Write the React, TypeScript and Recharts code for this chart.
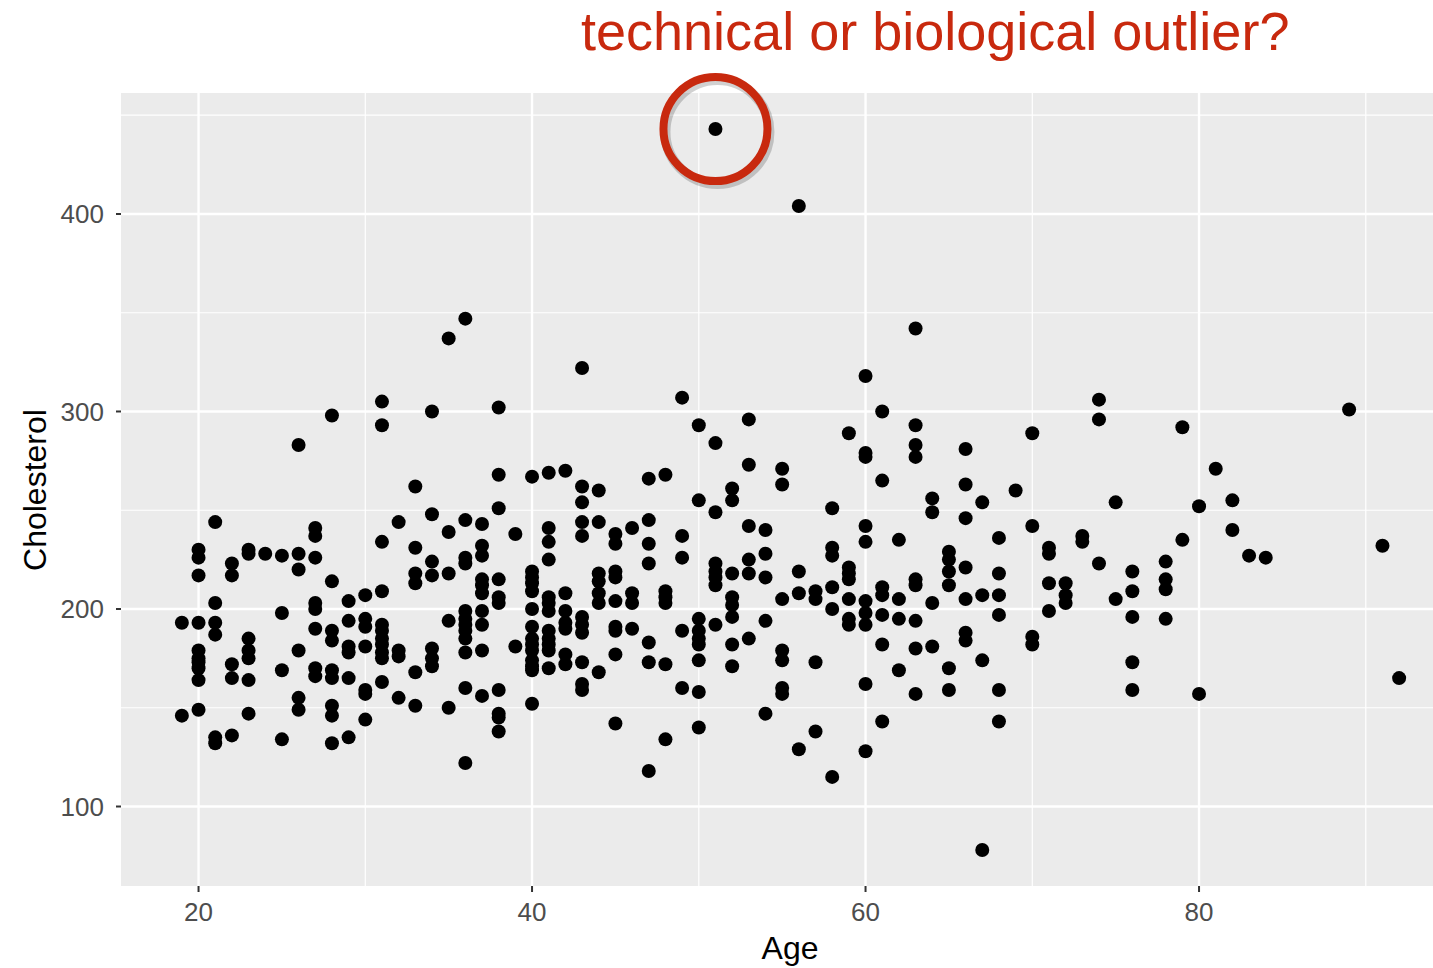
import React from "react";
import {
  ScatterChart,
  Scatter,
  XAxis,
  YAxis,
  CartesianGrid,
  ReferenceDot,
} from "recharts";

// ages present in the data and the cholesterol readings at each age
const AGES = [
  19, 20, 21, 22, 23, 24, 25, 26, 27, 28, 29, 30, 31, 32, 33, 34, 35, 36, 37, 38, 39, 40,
  41, 42, 43, 44, 45, 46, 47, 48, 49, 50, 51, 52, 53, 54, 55, 56, 57, 58, 59, 60, 61, 62,
  63, 64, 65, 66, 67, 68, 69, 70, 71, 72, 73, 74, 75, 76, 78, 79, 80, 81, 82, 83, 84, 89,
  91, 92,
];

const CHOL_BY_AGE = [
  [193, 146],
  [230, 226, 217, 193, 179, 175, 173, 170, 164, 149],
  [244, 203, 193, 187, 135, 132],
  [223, 217, 172, 165, 136],
  [230, 228, 185, 179, 175, 164, 147],
  [228],
  [227, 198, 169, 134],
  [283, 228, 220, 179, 155, 149],
  [241, 237, 226, 203, 200, 190, 170, 166],
  [298, 214, 189, 184, 169, 165, 151, 146, 132],
  [204, 194, 181, 178, 165, 135],
  [207, 195, 191, 181, 159, 157, 144],
  [305, 293, 234, 209, 192, 189, 185, 182, 178, 175, 163],
  [244, 179, 176, 155],
  [262, 231, 218, 213, 168, 151],
  [300, 248, 224, 217, 180, 175, 171],
  [337, 239, 218, 194, 150],
  [347, 245, 226, 223, 199, 195, 192, 189, 185, 178, 160, 122],
  [243, 232, 227, 215, 212, 208, 199, 192, 179, 156],
  [302, 268, 251, 215, 206, 203, 159, 147, 145, 138],
  [238, 181],
  [267, 219, 216, 213, 209, 200, 191, 185, 182, 179, 174, 171, 169, 152],
  [269, 241, 234, 225, 206, 203, 199, 189, 185, 182, 179, 170],
  [270, 208, 199, 193, 190, 177, 172],
  [322, 262, 254, 244, 237, 196, 192, 188, 173, 162, 159],
  [260, 244, 218, 214, 208, 203, 168],
  [238, 233, 219, 216, 204, 191, 189, 177, 142],
  [241, 208, 203, 190],
  [266, 245, 233, 223, 183, 173, 118],
  [268, 209, 206, 203, 172, 134],
  [307, 237, 226, 189, 160],
  [293, 255, 195, 189, 185, 182, 174, 158, 140],
  [443, 284, 249, 223, 219, 216, 212, 192],
  [261, 255, 218, 206, 202, 196, 182, 171],
  [296, 273, 242, 225, 218, 185],
  [240, 228, 216, 194, 147],
  [271, 263, 205, 179, 174, 160, 157],
  [404, 219, 208, 129],
  [209, 205, 173, 138],
  [251, 231, 227, 211, 200, 115],
  [289, 221, 218, 215, 205, 195, 192],
  [318, 279, 277, 242, 234, 204, 198, 192, 162, 128],
  [300, 265, 211, 207, 197, 182, 143],
  [235, 205, 195, 169],
  [342, 293, 283, 277, 215, 212, 194, 180, 157],
  [256, 249, 203, 181],
  [229, 225, 219, 212, 170, 159],
  [281, 263, 246, 221, 205, 188, 184],
  [254, 207, 174, 78],
  [236, 218, 207, 197, 159, 143],
  [260],
  [289, 242, 186, 182],
  [231, 228, 213, 199],
  [213, 207, 203],
  [237, 234],
  [306, 296, 223],
  [254, 205],
  [219, 209, 196, 173, 159],
  [224, 215, 210, 195],
  [292, 235],
  [252, 157],
  [271],
  [255, 240],
  [227],
  [226],
  [301],
  [232],
  [165],
];

const X_TICKS = [20, 40, 60, 80];
const X_MINOR = [30, 50, 70, 90];
const Y_TICKS = [100, 200, 300, 400];
const Y_MINOR = [150, 250, 350, 450];

// the flagged reading
const OUTLIER_AGE = 51;
const OUTLIER_CHOL = 443;

const points = AGES.flatMap((age, i) =>
  CHOL_BY_AGE[i].map((chol) => ({ age, chol }))
);

const FONT = '"Liberation Sans", Arial, Helvetica, sans-serif';
const RED = "#c8290e";

const Dot = (p: any) => <circle cx={p.cx} cy={p.cy} r={7} fill="#000" />;

const Ring = (p: any) => (
  <g>
    <circle cx={p.cx + 2} cy={p.cy + 3} r={p.r} fill="none" stroke="rgba(0,0,0,0.18)" strokeWidth={10} />
    <circle cx={p.cx} cy={p.cy} r={p.r} fill="none" stroke={RED} strokeWidth={8} />
  </g>
);

export default function App() {
  return (
    <div
      style={{
        position: "absolute",
        left: 0,
        top: 0,
        width: 1433,
        height: 968,
        overflow: "hidden",
        background: "white",
        fontFamily: FONT,
      }}
    >
      <ScatterChart width={1460} height={968} margin={{ top: 93, right: 0, bottom: 0, left: 0 }}>
        <CartesianGrid
          fill="#ebebeb"
          stroke="#ffffff"
          strokeWidth={1.2}
          horizontalValues={Y_MINOR}
          verticalValues={X_MINOR}
        />
        <CartesianGrid
          stroke="#ffffff"
          strokeWidth={2.4}
          horizontalValues={Y_TICKS}
          verticalValues={X_TICKS}
        />
        <XAxis
          type="number"
          dataKey="age"
          domain={[15.35, 95.65]}
          ticks={X_TICKS}
          allowDataOverflow
          height={82}
          axisLine={false}
          tickSize={6}
          tickMargin={11}
          tickLine={{ stroke: "#333333", strokeWidth: 2 }}
          tick={{ fill: "#4d4d4d", fontSize: 26, fontFamily: FONT }}
        />
        <YAxis
          type="number"
          dataKey="chol"
          domain={[59.75, 461.25]}
          ticks={Y_TICKS}
          allowDataOverflow
          width={121}
          axisLine={false}
          tickSize={5}
          tickMargin={12}
          tickLine={{ stroke: "#333333", strokeWidth: 2 }}
          tick={{ fill: "#4d4d4d", fontSize: 26, fontFamily: FONT }}
        />
        <Scatter data={points} shape={Dot} isAnimationActive={false} />
        <ReferenceDot
          x={OUTLIER_AGE}
          y={OUTLIER_CHOL}
          r={52}
          ifOverflow="visible"
          shape={Ring}
        />
      </ScatterChart>

      <div
        style={{
          position: "absolute",
          left: 581,
          top: 4,
          fontSize: 54,
          lineHeight: "54px",
          color: RED,
          whiteSpace: "nowrap",
        }}
      >
        technical or biological outlier?
      </div>
      <div
        style={{
          position: "absolute",
          left: 590,
          width: 400,
          top: 932,
          textAlign: "center",
          fontSize: 32,
          lineHeight: "32px",
          color: "#000",
        }}
      >
        Age
      </div>
      <div
        style={{
          position: "absolute",
          left: 35 - 200,
          top: 490 - 16,
          width: 400,
          height: 32,
          textAlign: "center",
          fontSize: 32,
          lineHeight: "32px",
          color: "#000",
          transform: "rotate(-90deg)",
          transformOrigin: "50% 50%",
        }}
      >
        Cholesterol
      </div>
    </div>
  );
}
